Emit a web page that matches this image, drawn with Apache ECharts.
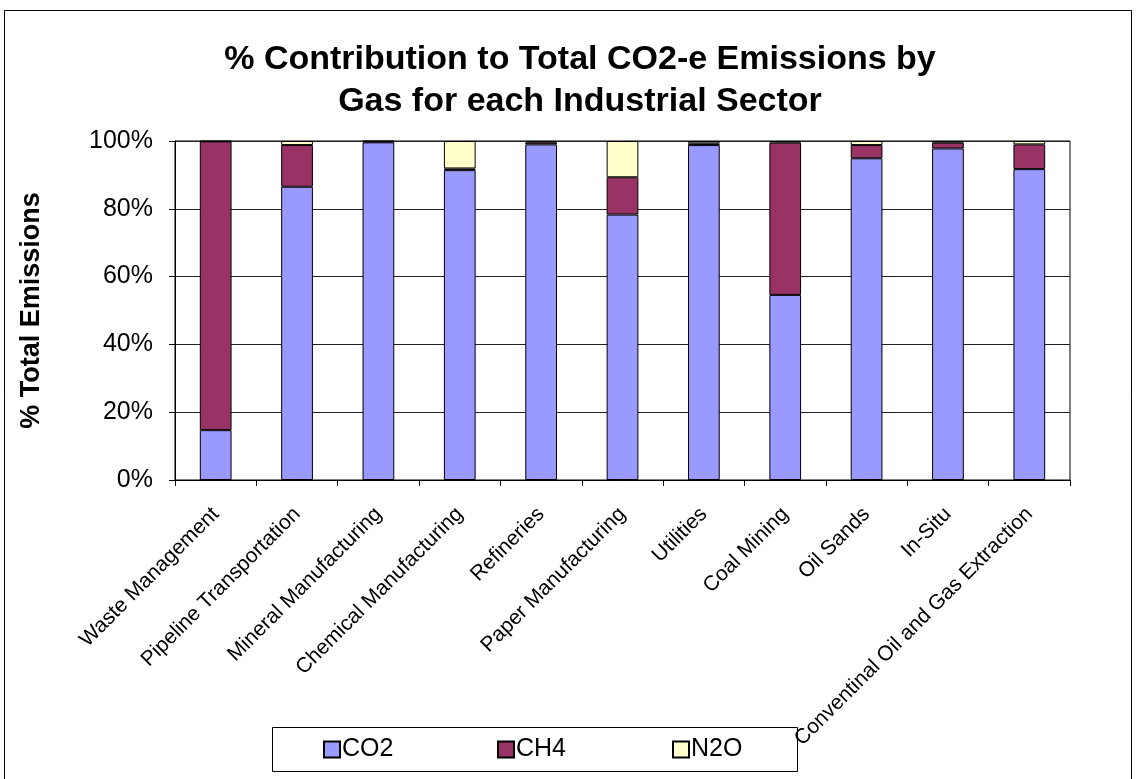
<!DOCTYPE html>
<html>
<head>
<meta charset="utf-8">
<script src="https://cdn.jsdelivr.net/npm/echarts@6/dist/echarts.min.js"></script>
<style>
html,body{margin:0;padding:0;background:#fff;}
#chart{width:1136px;height:779px;}
</style>
</head>
<body>
<div id="chart"></div>
<script>
var categories = ["Waste Management","Pipeline Transportation","Mineral Manufacturing","Chemical Manufacturing","Refineries","Paper Manufacturing","Utilities","Coal Mining","Oil Sands","In-Situ","Conventinal Oil and Gas Extraction"];
var co2 = [14.7, 86.5, 99.6, 91.4, 99.0, 78.3, 98.8, 54.6, 94.9, 97.8, 91.7];
var ch4 = [85.2, 12.3, 0.3, 0.5, 0.6, 11.0, 0.5, 44.9, 3.9, 1.7, 7.3];
var n2o = [0.1, 1.2, 0.1, 8.1, 0.4, 10.7, 0.7, 0.5, 1.2, 0.5, 1.0];
var seriesNames = ['CO2', 'CH4', 'N2O'];
var seriesColors = ['#9999FF', '#993366', '#FFFFCC'];

var FONT = '"Liberation Sans", Arial, sans-serif';
var chart = echarts.init(document.getElementById('chart'));
function barSeries(name, data, color) {
  return {
    name: name, type: 'bar', stack: 'total', data: data, barWidth: '39%',
    itemStyle: { color: color, borderColor: '#000', borderWidth: 1 },
    emphasis: { disabled: true }
  };
}
var legendLefts = [323, 497, 672];
var legends = seriesNames.map(function (n, i) {
  return {
    data: [n], left: legendLefts[i], top: 737, padding: 0,
    itemWidth: 16, itemHeight: 16, icon: 'rect', z: 10,
    textStyle: { fontFamily: FONT, fontSize: 25, color: '#000', padding: [0, 0, 0, -3] }
  };
});
chart.setOption({
  animation: false,
  textStyle: { fontFamily: FONT },
  title: {
    text: '% Contribution to Total CO2-e Emissions by\nGas for each Industrial Sector',
    left: 575, textAlign: 'center', top: 34,
    textStyle: { fontFamily: FONT, fontSize: 34, fontWeight: 'bold', color: '#000', lineHeight: 42 }
  },
  graphic: [
    { type: 'rect', shape: { x: 4.5, y: 10.5, width: 1127, height: 800 }, style: { fill: 'none', stroke: '#000', lineWidth: 1 }, silent: true, z: -1 },
    { type: 'rect', shape: { x: 272.5, y: 727.5, width: 525, height: 44 }, style: { fill: 'none', stroke: '#000', lineWidth: 1 }, silent: true, z: -1 }
  ],
  legend: legends,
  grid: { left: 175, right: 66, top: 141, bottom: 299, show: true, borderColor: '#000', borderWidth: 1 },
  xAxis: {
    type: 'category', data: categories,
    axisLine: { lineStyle: { color: '#000', width: 1 } },
    axisTick: { show: true, length: 6, lineStyle: { color: '#000' } },
    axisLabel: { rotate: 45, fontSize: 21, color: '#000', fontFamily: FONT, margin: 31, interval: 0 }
  },
  yAxis: {
    type: 'value', min: 0, max: 100, interval: 20,
    name: '% Total Emissions', nameLocation: 'middle', nameGap: 130,
    nameTextStyle: { fontFamily: FONT, fontSize: 27, fontWeight: 'bold', color: '#000' },
    axisLine: { show: true, lineStyle: { color: '#000', width: 1 } },
    axisTick: { show: true, length: 6, lineStyle: { color: '#000' } },
    axisLabel: { formatter: '{value}%', fontSize: 25, color: '#000', fontFamily: FONT, margin: 22 },
    splitLine: { show: true, lineStyle: { color: '#222', width: 1 } }
  },
  series: seriesNames.map(function (n, i) {
    return barSeries(n, [co2, ch4, n2o][i], seriesColors[i]);
  })
});
</script>
</body>
</html>
